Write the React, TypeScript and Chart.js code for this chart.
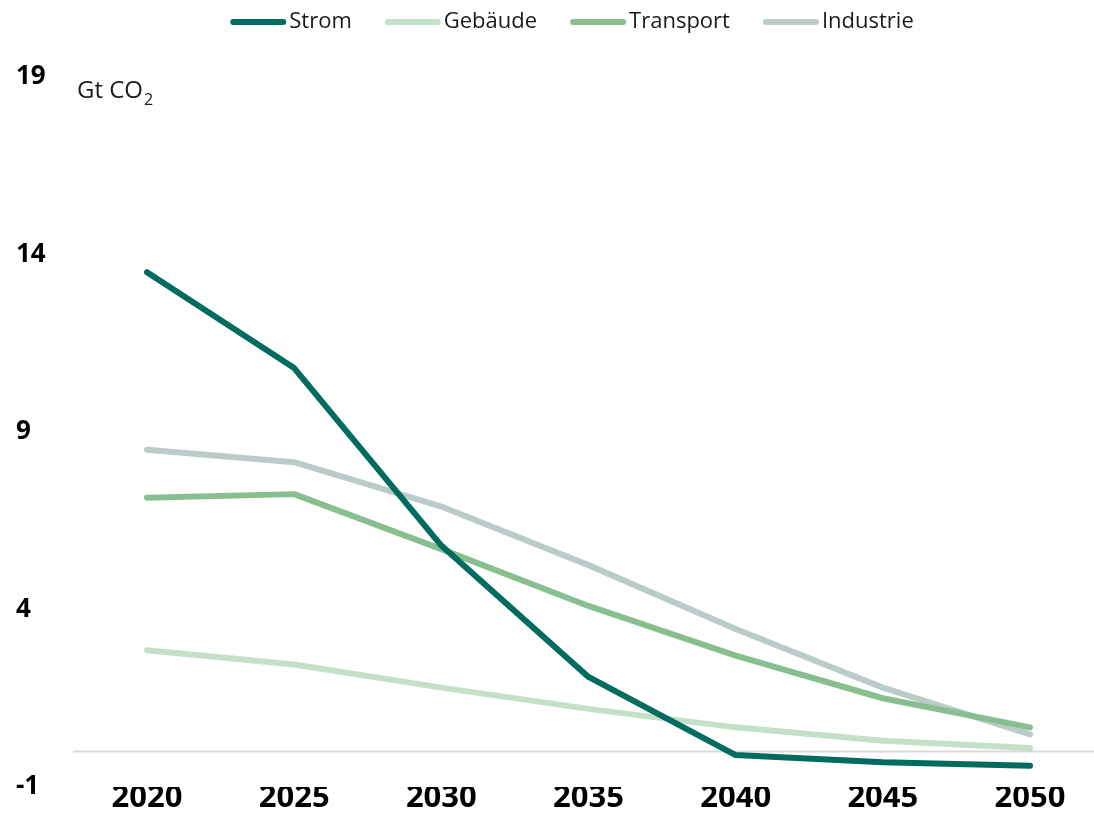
import React, { useEffect, useRef } from "react";
import { Chart, registerables } from "chart.js";

Chart.register(...registerables);

const years = ["2020", "2025", "2030", "2035", "2040", "2045", "2050"];
const strom = [13.5, 10.8, 5.8, 2.1, -0.1, -0.3, -0.4];
const gebaeude = [2.85, 2.45, 1.8, 1.2, 0.68, 0.3, 0.1];
const transport = [7.15, 7.25, 5.7, 4.1, 2.7, 1.5, 0.68];
const industrie = [8.5, 8.15, 6.9, 5.25, 3.45, 1.8, 0.48];
const yTicks = [-1, 4, 9, 14, 19];

const FONT = "'Open Sans', 'Noto Sans', sans-serif";

export default function App() {
  const ref = useRef<HTMLCanvasElement | null>(null);

  useEffect(() => {
    document.body.style.margin = "0";
    const canvas = ref.current;
    if (!canvas) return;

    const zeroLine = {
      id: "zeroLine",
      beforeDatasetsDraw(chart: any) {
        const { ctx, scales } = chart;
        const y = scales.y.getPixelForValue(0);
        ctx.save();
        ctx.strokeStyle = "#d9d9d9";
        ctx.lineWidth = 2;
        ctx.beginPath();
        ctx.moveTo(73, y);
        ctx.lineTo(chart.width, y);
        ctx.stroke();
        ctx.restore();
      },
    };

    const yTitle = {
      id: "yTitle",
      afterDraw(chart: any) {
        const { ctx } = chart;
        ctx.save();
        ctx.fillStyle = "#1a1a1a";
        ctx.textBaseline = "alphabetic";
        ctx.textAlign = "left";
        ctx.font = `24px ${FONT}`;
        const t = "Gt CO";
        ctx.fillText(t, 77, 98);
        const w = ctx.measureText(t).width;
        ctx.font = `16px ${FONT}`;
        ctx.fillText("2", 77 + w + 1, 105);
        ctx.restore();
      },
    };

    const customLegend = {
      id: "customLegend",
      afterDraw(chart: any) {
        const { ctx } = chart;
        const ds = chart.data.datasets;
        const lineW = 56;
        const textGap = 3;
        const itemGap = 33;
        const cy = 22;
        ctx.save();
        ctx.font = `22px ${FONT}`;
        const widths = ds.map((d: any) => ctx.measureText(d.label).width);
        let total = 0;
        widths.forEach((w: number) => (total += lineW + textGap + w));
        total += itemGap * (ds.length - 1);
        let x = 572 - total / 2;
        ds.forEach((d: any, i: number) => {
          ctx.strokeStyle = d.borderColor;
          ctx.lineWidth = 6;
          ctx.lineCap = "round";
          ctx.beginPath();
          ctx.moveTo(x + 3, cy);
          ctx.lineTo(x + lineW - 3, cy);
          ctx.stroke();
          ctx.fillStyle = "#1a1a1a";
          ctx.textBaseline = "middle";
          ctx.textAlign = "left";
          ctx.fillText(d.label, x + lineW + textGap, cy);
          x += lineW + textGap + widths[i] + itemGap;
        });
        ctx.restore();
      },
    };

    const mk = (label: string, data: number[], color: string) => ({
      label,
      data,
      borderColor: color,
      backgroundColor: color,
      borderWidth: 6,
      borderCapStyle: "round" as const,
      borderJoinStyle: "round" as const,
      pointRadius: 0,
      tension: 0,
      fill: false,
    });

    const chart = new Chart(canvas, {
      type: "line",
      data: {
        labels: years,
        datasets: [
          mk("Strom", strom, "#006b5f"),
          mk("Gebäude", gebaeude, "#c4e1c8"),
          mk("Transport", transport, "#87bf8e"),
          mk("Industrie", industrie, "#bacbca"),
        ],
      },
      options: {
        responsive: false,
        animation: false,
        layout: { padding: { left: 16, right: 64, top: 77, bottom: 0 } },
        plugins: {
          legend: { display: false },
          tooltip: { enabled: false },
        },
        scales: {
          x: {
            offset: false,
            grid: { display: false, drawTicks: false },
            border: { display: false },
            afterFit(scale: any) {
              scale.height = 28;
            },
            ticks: {
              padding: -7,
              color: "#000",
              font: { family: FONT, size: 31, weight: "bold" },
              maxRotation: 0,
            },
          },
          y: {
            min: -1,
            max: 19,
            grid: { display: false, drawTicks: false },
            border: { display: false },
            afterBuildTicks(scale: any) {
              scale.ticks = yTicks.map((v) => ({ value: v }));
            },
            afterFit(scale: any) {
              scale.width = 131;
            },
            ticks: {
              crossAlign: "far",
              color: "#000",
              font: { family: FONT, size: 26, weight: "bold" },
            },
          },
        },
      },
      plugins: [zeroLine, yTitle, customLegend],
    });

    return () => chart.destroy();
  }, []);

  return (
    <div style={{ width: 1094, height: 815 }}>
      <canvas ref={ref} width={1094} height={815} style={{ display: "block" }} />
    </div>
  );
}
